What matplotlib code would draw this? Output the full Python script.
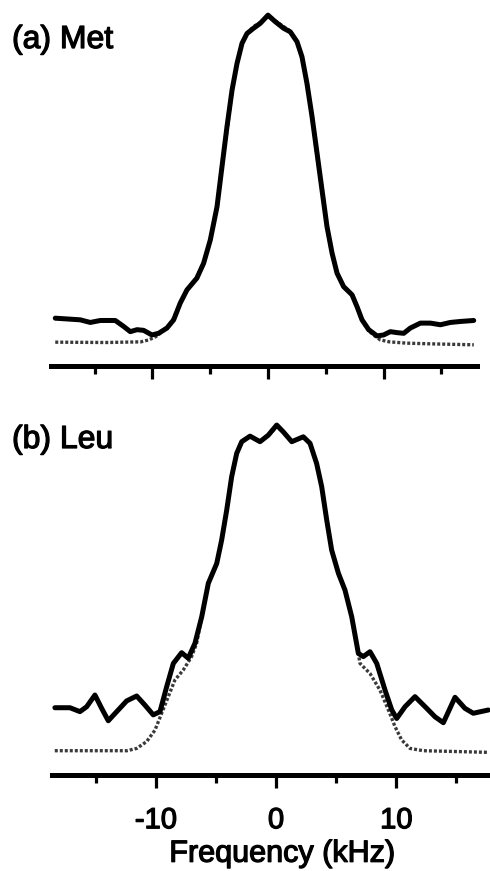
import matplotlib
matplotlib.use("Agg")
import matplotlib.pyplot as plt
import matplotlib.patheffects as pe
from matplotlib.ticker import FixedLocator

# Data ------------------------------------------------------------------------
# (a) Met : experimental (solid) and simulated (dotted) spectra, normalised
met_exp_freq = [-18.4, -16.24, -15.37, -14.5, -13.21, -12.49, -11.91, -11.33, -10.76,
                -10.04, -9.46, -8.74, -8.16, -7.59, -7.01, -6.15, -5.57, -4.99, -4.41,
                -3.98, -3.55, -3.11, -2.68, -2.25, -1.82, -1.25, -0.67, 0.0, 0.63, 1.35,
                1.93, 2.51, 2.94, 3.37, 3.81, 4.24, 4.67, 5.10, 5.54, 5.97, 6.54, 7.27,
                7.70, 8.13, 8.71, 9.43, 10.0, 10.58, 11.16, 11.74, 12.31, 13.18, 14.04,
                14.91, 15.77, 16.64, 17.79]
met_exp_int = [0.078, 0.073, 0.065, 0.071, 0.071, 0.053, 0.037, 0.043, 0.041,
               0.027, 0.032, 0.048, 0.073, 0.124, 0.164, 0.200, 0.245, 0.316, 0.417,
               0.539, 0.660, 0.772, 0.853, 0.914, 0.944, 0.960, 0.975, 1.0, 0.980, 0.960,
               0.949, 0.919, 0.873, 0.792, 0.691, 0.580, 0.468, 0.357, 0.276, 0.215, 0.174,
               0.149, 0.113, 0.073, 0.043, 0.024, 0.027, 0.037, 0.034, 0.032, 0.048, 0.063,
               0.063, 0.058, 0.065, 0.068, 0.071]

met_sim_freq = [-18.4, -14.0, -11.0, -10.3, -9.7, -9.2, -8.7, -8.2, -7.6, -7.0, -6.2,
                -5.6, -5.0, -4.4, -4.0, -3.5, -3.1, -2.7, -2.25, -1.8, -1.25, -0.65, 0.0,
                0.65, 1.35, 1.9, 2.5, 2.9, 3.4, 3.8, 4.2, 4.7, 5.1, 5.5, 6.0, 6.5, 7.3,
                7.7, 8.1, 8.7, 9.2, 9.7, 10.5, 12.0, 14.0, 17.8]
met_sim_int = [0.005, 0.004, 0.006, 0.012, 0.022, 0.036, 0.050, 0.075, 0.124, 0.164,
               0.200, 0.245, 0.316, 0.417, 0.539, 0.660, 0.772, 0.853, 0.914, 0.946,
               0.965, 0.978, 0.995, 0.982, 0.965, 0.952, 0.920, 0.873, 0.792, 0.691,
               0.580, 0.468, 0.357, 0.276, 0.215, 0.174, 0.149, 0.113, 0.073, 0.040,
               0.025, 0.012, 0.006, 0.002, 0.0, -0.003]

# (b) Leu
leu_exp_freq = [-18.39, -17.14, -16.31, -15.75, -15.06, -14.5, -13.95, -13.25, -12.42,
                -11.59, -10.9, -10.21, -9.65, -9.09, -8.54, -7.85, -7.30, -6.74, -6.18,
                -5.63, -4.93, -4.52, -4.10, -3.69, -3.27, -2.85, -2.16, -1.33, -0.64,
                0.06, 0.61, 1.31, 2.27, 2.83, 3.38, 3.80, 4.22, 4.63, 5.19, 5.74, 6.30,
                6.85, 7.26, 7.82, 8.38, 9.07, 9.63, 10.04, 10.73, 11.56, 12.54, 13.23,
                13.92, 14.89, 15.72, 16.41, 17.66]
leu_exp_int = [0.132, 0.132, 0.120, 0.135, 0.171, 0.130, 0.092, 0.120, 0.153,
               0.168, 0.140, 0.110, 0.120, 0.197, 0.268, 0.301, 0.284, 0.330, 0.411,
               0.514, 0.575, 0.647, 0.739, 0.841, 0.913, 0.949, 0.966, 0.949, 0.969,
               1.0, 0.979, 0.949, 0.964, 0.944, 0.882, 0.811, 0.708, 0.616, 0.545, 0.493,
               0.411, 0.299, 0.289, 0.304, 0.268, 0.186, 0.125, 0.099, 0.135, 0.166,
               0.130, 0.104, 0.086, 0.164, 0.130, 0.115, 0.125]

leu_sim_freq = [-18.4, -12.4, -11.59, -10.76, -10.07, -9.51, -8.96, -8.41, -7.71, -7.02,
                -6.60, -6.18, -5.63, -4.93, -4.52, -4.10, -3.69, -3.27, -2.85, -2.16,
                -1.33, -0.64, 0.06, 0.61, 1.31, 2.27, 2.83, 3.38, 3.80, 4.22, 4.63, 5.19,
                5.74, 6.30, 6.99, 7.82, 8.65, 9.35, 9.90, 10.45, 11.15, 12.25, 17.66]
leu_sim_int = [0.0, 0.0, 0.007, 0.028, 0.063, 0.115, 0.166, 0.217, 0.248, 0.289,
               0.330, 0.411, 0.514, 0.575, 0.647, 0.739, 0.841, 0.913, 0.949, 0.966,
               0.949, 0.969, 0.995, 0.979, 0.949, 0.964, 0.944, 0.882, 0.811, 0.708,
               0.616, 0.545, 0.493, 0.411, 0.268, 0.237, 0.186, 0.125, 0.074, 0.033,
               0.007, 0.0, -0.005]

major_ticks = [-10, 0, 10]
minor_ticks = [-15, -5, 5, 15]
tick_labels = ["-10", "0", "10"]

# Plot ------------------------------------------------------------------------
plt.rcParams['font.family'] = ['Liberation Sans', 'DejaVu Sans']

W, H = 490, 871
fig = plt.figure(figsize=(W / 100, H / 100), dpi=100)

# scanned print look: slightly heavier text
heavy = [pe.withStroke(linewidth=0.9, foreground='black')]

ax_a = fig.add_axes([40 / W, 1 - 366.5 / H, 450 / W, 366.5 / H])
ax_b = fig.add_axes([40 / W, 1 - 775 / H, 450 / W, 375 / H])

panels = [
    (ax_a, met_exp_freq, met_exp_int, met_sim_freq, met_sim_int,
     (-19.72, 19.20), (-0.069, 1.046), (-18.8, 18.1)),
    (ax_b, leu_exp_freq, leu_exp_int, leu_sim_freq, leu_sim_int,
     (-19.63, 17.80), (-0.0746, 1.077), (-18.6, 17.8)),
]

for ax, ef, ei, sf, si, xl, yl, sb in panels:
    ax.plot(sf, si, color='#3a3a3a', lw=2.4, linestyle=(0, (0.9, 0.6)))
    ax.plot(ef, ei, color='black', lw=3.6, solid_joinstyle='round',
            solid_capstyle='round')
    ax.set_xlim(*xl)
    ax.set_ylim(*yl)
    for s in ['top', 'left', 'right']:
        ax.spines[s].set_visible(False)
    ax.spines['bottom'].set_linewidth(3.6)
    ax.spines['bottom'].set_bounds(*sb)
    ax.patch.set_visible(False)
    ax.set_yticks([])
    ax.xaxis.set_major_locator(FixedLocator(major_ticks))
    ax.xaxis.set_minor_locator(FixedLocator(minor_ticks))
    ax.tick_params(axis='x', which='major', direction='out', length=9.5, width=2.3)
    ax.tick_params(axis='x', which='minor', direction='out', length=5.5, width=2.3)

ax_a.tick_params(axis='x', which='both', labelbottom=False)
ax_b.set_xticklabels(tick_labels)
ax_b.tick_params(axis='x', which='major', labelsize=21, pad=13)
for t in ax_b.get_xticklabels():
    t.set_path_effects(heavy)
ax_b.set_xlabel("Frequency (kHz)", fontsize=22, labelpad=0, path_effects=heavy)
ax_b.xaxis.set_label_coords(242 / 450, -0.17)

fig.text(12 / W, 1 - 48 / H, "(a) Met", fontsize=23, va='baseline', ha='left',
         path_effects=heavy)
fig.text(12 / W, 1 - 448 / H, "(b) Leu", fontsize=23, va='baseline', ha='left',
         path_effects=heavy)

fig.savefig("out.png", dpi=100)
